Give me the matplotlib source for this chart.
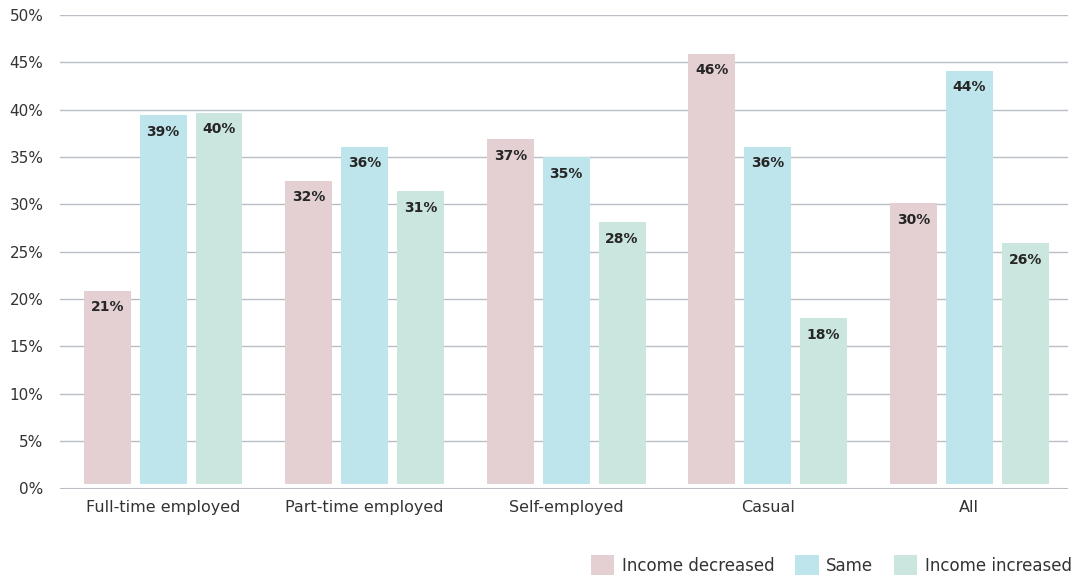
import numpy as np
import matplotlib.pyplot as plt
from matplotlib.patches import Patch

categories = ['Full-time employed', 'Part-time employed', 'Self-employed', 'Casual', 'All']
series_names = ['Income decreased', 'Same', 'Income increased']
income_decreased = [20.9, 32.5, 36.9, 45.9, 30.1]
same = [39.4, 36.1, 35.0, 36.1, 44.1]
income_increased = [39.7, 31.4, 28.1, 18.0, 25.9]
colors = ['#e4d0d3', '#bfe5ec', '#cae6de']

plt.rcParams['font.family'] = ['DejaVu Sans']

fig = plt.figure(figsize=(10.75, 5.77), dpi=100)
ax = fig.add_axes([60 / 1075, 1 - 488.5 / 577, 1008 / 1075, 473.5 / 577])

x = np.arange(len(categories))
width = 0.233
pitch = 0.277
base = 0.5  # bars sit just above the zero line

for i, (vals, col) in enumerate(zip([income_decreased, same, income_increased], colors)):
    pos = x + (i - 1) * pitch
    heights = [v - base for v in vals]
    ax.bar(pos, heights, width=width, bottom=base, color=col, zorder=2)
    for px, v in zip(pos, vals):
        ax.text(px, v - 1.0, f'{round(v)}%', ha='center', va='top',
                fontsize=10, fontweight='bold', color='#262626', zorder=3)

ax.set_ylim(0, 50)
ax.set_xlim(-0.512, 4.49)
ax.set_yticks(np.arange(0, 51, 5))
ax.set_yticklabels([f'{t}%' for t in range(0, 51, 5)])
ax.set_xticks(x)
ax.set_xticklabels(categories)
ax.tick_params(axis='both', length=0, labelsize=11.5, colors='#333333')
ax.tick_params(axis='y', pad=12, labelsize=11)
ax.tick_params(axis='x', pad=8)
ax.yaxis.grid(True, color='#b9bdc4', linewidth=1, zorder=0)
ax.set_axisbelow(True)
for s in ax.spines.values():
    s.set_visible(False)
ax.axhline(0, color='#b9bdc4', linewidth=1.5, zorder=1)

handles = [Patch(facecolor=c, label=n) for c, n in zip(colors, series_names)]
fig.legend(handles=handles, loc='lower right', bbox_to_anchor=(1.011, -0.022), ncol=3,
           frameon=False, fontsize=12, handlelength=1.4, handleheight=1.4,
           handletextpad=0.45, columnspacing=1.25, labelcolor='#333333')

fig.savefig('out.png', dpi=100)
